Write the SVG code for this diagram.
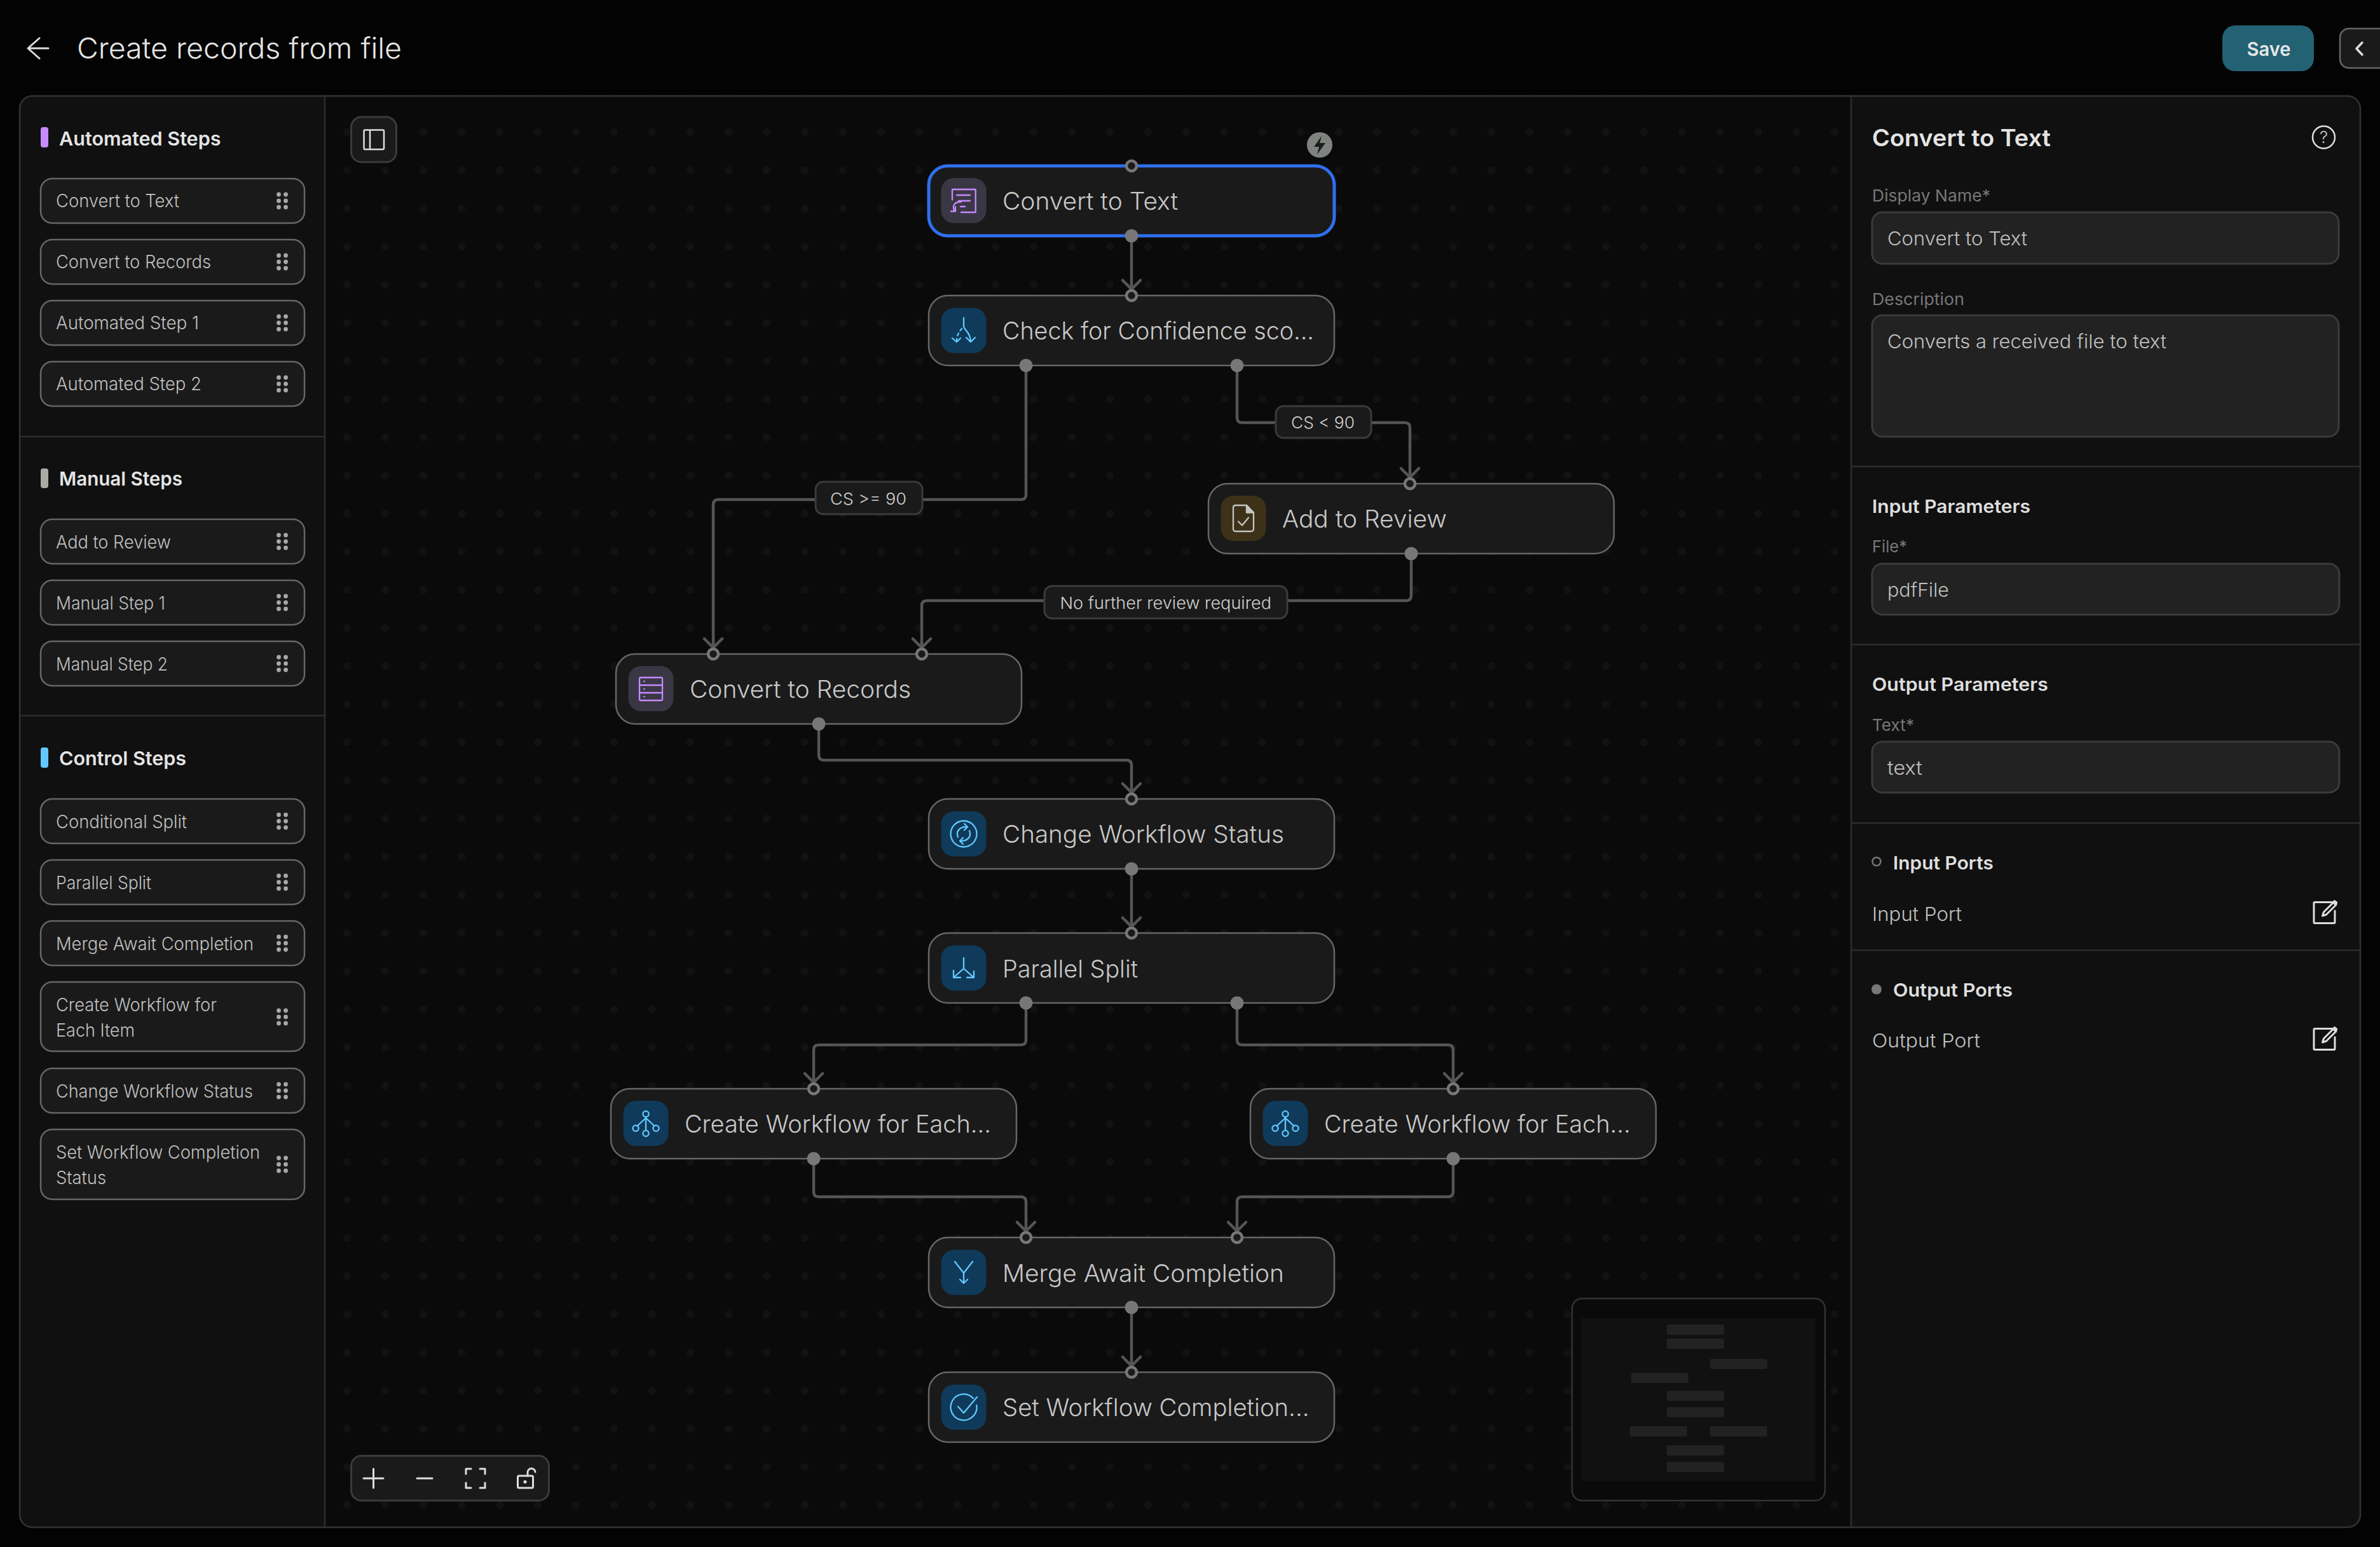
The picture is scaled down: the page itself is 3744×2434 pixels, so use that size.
<svg xmlns="http://www.w3.org/2000/svg" xmlns:xlink="http://www.w3.org/1999/xlink" width="3744" height="2434" viewBox="0 0 3744 2434">
<style>
text{font-family:"Inter","Noto Sans",sans-serif;}
.title{font-size:45px;font-weight:300;fill:#e6e6e6;}
.head{font-size:30px;font-weight:600;fill:#e4e4e4;}
.pal{font-size:28px;font-weight:300;fill:#c0c0c0;}
.item{fill:#1a1a1a;stroke:#666;stroke-width:2.5;}
.node{fill:#1a1a1a;stroke:#666;stroke-width:2.5;}
.sel{fill:#1a1a1a;stroke:#2f6fee;stroke-width:5;}
.nl{font-size:38px;font-weight:300;fill:#c8c8c8;}
.tile-p{fill:#3a3745;}
.tile-b{fill:#0f3a5a;}
.tile-y{fill:#3d3218;}
.ic{fill:none;stroke-width:2.3;stroke-linecap:round;stroke-linejoin:round;}
.ic-p{stroke:#c68bff;}
.ic-b{stroke:#62c8ff;}
.ic-g{stroke:#c4c4c4;}
.pin{fill:#1a1a1a;stroke:#777;stroke-width:4.5;}
.pout{fill:#777;}
.edge{fill:none;stroke:#555;stroke-width:4.5;marker-end:url(#chev);}
.elab{fill:#1a1a1a;stroke:#3a3a40;stroke-width:3;}
.elt{font-size:26px;font-weight:300;fill:#d0d0d0;}
.lab{font-size:26px;fill:#777;font-weight:400;}
.field{fill:#222;stroke:#3a3a40;stroke-width:3;}
.ft{font-size:30px;font-weight:300;fill:#c0c0c0;}
.sh{font-size:29px;font-weight:600;fill:#dedede;}
.pnl{font-size:37px;font-weight:600;fill:#e4e4e4;}
.tool{fill:none;stroke:#ddd;stroke-width:3;stroke-linecap:round;stroke-linejoin:round;}
.div{stroke:#2c2c2c;stroke-width:2.5;}
.mm{fill:#222;}
</style>
<defs>
<pattern id="dots" patternUnits="userSpaceOnUse" width="60" height="60"><circle cx="6" cy="28" r="6" fill="#121212"/></pattern>
<marker id="chev" markerUnits="userSpaceOnUse" markerWidth="24" markerHeight="36" refX="18" refY="18" orient="auto" viewBox="0 0 24 36"><path d="M4,4 L18,18 L4,32" fill="none" stroke="#555" stroke-width="4.5" stroke-linecap="round"/></marker>
<g id="grip" fill="#a8a8a8"><circle cx="-5.5" cy="-10" r="3.4"/><circle cx="5.5" cy="-10" r="3.4"/><circle cx="-5.5" cy="0" r="3.4"/><circle cx="5.5" cy="0" r="3.4"/><circle cx="-5.5" cy="10" r="3.4"/><circle cx="5.5" cy="10" r="3.4"/></g>
<g id="i-text"><path d="M-18,-1 V-17.5 H18.7 V18.5 H-4 M-11,-8.5 H10 M-8,0.5 H10 M-5,9.5 H2"/><path d="M-4,2 C-15,2 -19,9 -14,17 M-20,17 H-13 V10"/></g>
<g id="i-cond"><path d="M0,-20 V-7 C0,-1 11,3 11,18 M4,11 L11,18 L18,11 M-18,12 L-11,18 L-5,12"/><path d="M-3,-3 C-8,3 -11,8 -11,17" stroke-dasharray="4 5"/></g>
<g id="i-par"><path d="M0,-16 V1 L-16,15 M0,1 L16,15 M-16,4 V15 H-5 M16,5 V15 H5"/></g>
<g id="i-each"><circle cx="0" cy="-15.3" r="4.6"/><circle cx="-16" cy="7.3" r="4.6"/><circle cx="16" cy="7.3" r="4.6"/><circle cx="0" cy="15.3" r="4.6"/><path d="M0,-10.5 V10.5 M0,-9 L-13.5,3.5 M0,-9 L13.5,3.5"/></g>
<g id="i-merge"><path d="M-14,-17 L0,1 L14,-17 M0,1 V17 M-6,11 L0,17 L6,11"/></g>
<g id="i-change"><circle cx="0" cy="0" r="20.5"/><path d="M-9,5 C-13,-5 -5,-12 6,-11 M1,-16 L6,-11 L1,-6 M9,-5 C13,5 5,12 -6,11 M-1,16 L-6,11 L-1,6"/></g>
<g id="i-set"><path d="M15,-14 A20.5,20.5 0 1 0 20.3,-3"/><path d="M-9,-1 L0,9 L21,-16"/></g>
<g id="i-rec"><rect x="-18" y="-18" width="36" height="36" rx="2"/><path d="M-18,-6 H18 M-18,6 H18 M-11,-12 H-10.5 M-11,0 H-10.5 M-11,12 H-10.5"/></g>
<g id="i-doc"><path d="M5,-20.5 H-12 Q-16,-20.5 -16,-16.5 V16.5 Q-16,20.5 -12,20.5 H12 Q16,20.5 16,16.5 V-9 Z"/><path d="M5,-20.5 V-9 H16 Z" fill="#c4c4c4"/><path d="M-8,5 L-2,11 L8,-1"/></g>
<g id="i-edit"><path d="M18,-15.5 H-16 Q-17.5,-15.5 -17.5,-14 V16 Q-17.5,17.5 -16,17.5 H14 Q15.5,17.5 15.5,16 V-2"/><path d="M-4,6 L-2,0 L13,-15 L17,-11 L2,4 Z"/><path d="M13,-15 L15,-17.5 L18,-14 L17,-11" fill="#ddd"/></g>
<clipPath id="frame"><rect x="31" y="151" width="3682" height="2252" rx="20"/></clipPath>
</defs>

<rect width="3744" height="2434" fill="#030303"/>
<g id="frame-panels">
<g clip-path="url(#frame)">
<rect x="31" y="151" width="3682" height="2252" fill="#0a0a0a"/>
<rect x="512" y="151" width="2400" height="2252" fill="url(#dots)"/>
<rect x="31" y="151" width="480" height="2252" fill="#101010"/>
<rect x="2912" y="151" width="801" height="2252" fill="#101010"/>
</g>
<rect x="31" y="151" width="3682" height="2252" rx="20" fill="none" stroke="#333" stroke-width="2.5"/>
<path class="div" d="M511,152 V2402 M2912,152 V2402 M32,687 H511 M32,1126 H511 M2913,734 H3712 M2913,1014 H3712 M2913,1295 H3712 M2913,1495 H3712"/>
</g>

<g id="header">
<path d="M76,76 H45 M62,60 L44,76 L62,92" fill="none" stroke="#ddd" stroke-width="3" stroke-linecap="round" stroke-linejoin="round"/>
<text class="title" x="121" y="92" textLength="511" lengthAdjust="spacingAndGlyphs">Create records from file</text>
<rect x="3496" y="40" width="144" height="72" rx="20" fill="#226273"/>
<text x="3569" y="88" text-anchor="middle" font-size="30" font-weight="600" fill="#e6e6e6" textLength="69" lengthAdjust="spacingAndGlyphs">Save</text>
<rect x="3681" y="45" width="80" height="62" rx="14" fill="#1a1a1a" stroke="#666" stroke-width="2.5"/>
<path d="M3716,67 L3707,76.5 L3716,86" fill="none" stroke="#ddd" stroke-width="3.5" stroke-linecap="round" stroke-linejoin="round"/>
</g>

<g id="palette">
<rect x="64" y="200" width="12" height="32" rx="4" fill="#c68bff"/>
<text class="head" x="93" y="228.5" textLength="254.5" lengthAdjust="spacingAndGlyphs">Automated Steps</text>
<g id="pal-convert-text"><rect class="item" x="64" y="281" width="415" height="70" rx="18"/><text class="pal" x="88" y="326" textLength="194" lengthAdjust="spacingAndGlyphs">Convert to Text</text><use href="#grip" x="444" y="316"/></g>
<g id="pal-convert-records"><rect class="item" x="64" y="377" width="415" height="70" rx="18"/><text class="pal" x="88" y="422" textLength="244" lengthAdjust="spacingAndGlyphs">Convert to Records</text><use href="#grip" x="444" y="412"/></g>
<g id="pal-auto-1"><rect class="item" x="64" y="473" width="415" height="70" rx="18"/><text class="pal" x="88" y="518" textLength="225" lengthAdjust="spacingAndGlyphs">Automated Step 1</text><use href="#grip" x="444" y="508"/></g>
<g id="pal-auto-2"><rect class="item" x="64" y="569" width="415" height="70" rx="18"/><text class="pal" x="88" y="614" textLength="229" lengthAdjust="spacingAndGlyphs">Automated Step 2</text><use href="#grip" x="444" y="604"/></g>

<rect x="64" y="737" width="12" height="31" rx="4" fill="#aaa9a3"/>
<text class="head" x="93" y="763.5" textLength="194" lengthAdjust="spacingAndGlyphs">Manual Steps</text>
<g id="pal-add-review"><rect class="item" x="64" y="817" width="415" height="70" rx="18"/><text class="pal" x="88" y="863" textLength="181" lengthAdjust="spacingAndGlyphs">Add to Review</text><use href="#grip" x="444" y="852"/></g>
<g id="pal-manual-1"><rect class="item" x="64" y="913" width="415" height="70" rx="18"/><text class="pal" x="88" y="959" textLength="172" lengthAdjust="spacingAndGlyphs">Manual Step 1</text><use href="#grip" x="444" y="948"/></g>
<g id="pal-manual-2"><rect class="item" x="64" y="1009" width="415" height="70" rx="18"/><text class="pal" x="88" y="1055" textLength="176" lengthAdjust="spacingAndGlyphs">Manual Step 2</text><use href="#grip" x="444" y="1044"/></g>

<rect x="64" y="1176" width="12" height="32" rx="4" fill="#62c8ff"/>
<text class="head" x="93" y="1204" textLength="200" lengthAdjust="spacingAndGlyphs">Control Steps</text>
<g id="pal-cond"><rect class="item" x="64" y="1257" width="415" height="70" rx="18"/><text class="pal" x="88" y="1303" textLength="206" lengthAdjust="spacingAndGlyphs">Conditional Split</text><use href="#grip" x="444" y="1292"/></g>
<g id="pal-par"><rect class="item" x="64" y="1353" width="415" height="70" rx="18"/><text class="pal" x="88" y="1399" textLength="150" lengthAdjust="spacingAndGlyphs">Parallel Split</text><use href="#grip" x="444" y="1388"/></g>
<g id="pal-merge"><rect class="item" x="64" y="1449" width="415" height="70" rx="18"/><text class="pal" x="88" y="1495" textLength="311" lengthAdjust="spacingAndGlyphs">Merge Await Completion</text><use href="#grip" x="444" y="1484"/></g>
<g id="pal-each"><rect class="item" x="64" y="1545" width="415" height="109" rx="18"/><text class="pal" x="88" y="1591" textLength="253" lengthAdjust="spacingAndGlyphs">Create Workflow for</text><text class="pal" x="88" y="1631" textLength="124" lengthAdjust="spacingAndGlyphs">Each Item</text><use href="#grip" x="444" y="1600"/></g>
<g id="pal-change"><rect class="item" x="64" y="1681" width="415" height="70" rx="18"/><text class="pal" x="88" y="1727" textLength="310" lengthAdjust="spacingAndGlyphs">Change Workflow Status</text><use href="#grip" x="444" y="1716"/></g>
<g id="pal-set"><rect class="item" x="64" y="1777" width="415" height="110" rx="18"/><text class="pal" x="88" y="1823" textLength="321" lengthAdjust="spacingAndGlyphs">Set Workflow Completion</text><text class="pal" x="88" y="1863" textLength="79" lengthAdjust="spacingAndGlyphs">Status</text><use href="#grip" x="444" y="1832"/></g>
</g>

<g id="connectors">
<path id="e1" class="edge" d="M1780,371 V455"/>
<path id="e2" class="edge" d="M1614,575 V778 Q1614,786 1606,786 H1130 Q1122,786 1122,794 V1019"/>
<path id="e3" class="edge" d="M1946,575 V657 Q1946,665 1954,665 H2210 Q2218,665 2218,673 V751"/>
<path id="e4" class="edge" d="M2220,871 V937 Q2220,945 2212,945 H1458 Q1450,945 1450,953 V1019"/>
<path id="e5" class="edge" d="M1288,1139 V1188 Q1288,1196 1296,1196 H1772 Q1780,1196 1780,1204 V1247"/>
<path id="e6" class="edge" d="M1780,1367 V1458"/>
<path id="e7" class="edge" d="M1614,1578 V1636 Q1614,1644 1606,1644 H1288 Q1280,1644 1280,1652 V1703"/>
<path id="e8" class="edge" d="M1946,1578 V1636 Q1946,1644 1954,1644 H2278 Q2286,1644 2286,1652 V1703"/>
<path id="e9" class="edge" d="M1280,1823 V1875 Q1280,1883 1288,1883 H1606 Q1614,1883 1614,1891 V1937"/>
<path id="e10" class="edge" d="M2286,1823 V1875 Q2286,1883 2278,1883 H1954 Q1946,1883 1946,1891 V1937"/>
<path id="e11" class="edge" d="M1780,2057 V2149"/>
<g id="label-cs-ge"><rect class="elab" x="1283" y="758" width="168" height="51" rx="12"/><text class="elt" x="1306" y="793.5" textLength="120" lengthAdjust="spacingAndGlyphs">CS &gt;= 90</text></g>
<g id="label-cs-lt"><rect class="elab" x="2007" y="639" width="150" height="50" rx="12"/><text class="elt" x="2031" y="673.5" textLength="100" lengthAdjust="spacingAndGlyphs">CS &lt; 90</text></g>
<g id="label-no-review"><rect class="elab" x="1643" y="922" width="382" height="51" rx="12"/><text class="elt" x="1667.5" y="957.5" textLength="332.5" lengthAdjust="spacingAndGlyphs">No further review required</text></g>
</g>

<g id="node-convert-text">
<rect class="sel" x="1461" y="261" width="638" height="110" rx="30"/>
<rect class="tile-p" x="1480.5" y="280" width="71" height="71" rx="20"/>
<use href="#i-text" class="ic ic-p" x="1516" y="315.5"/>
<text class="nl" x="1577" y="330" textLength="276" lengthAdjust="spacingAndGlyphs">Convert to Text</text>
<circle class="pin" cx="1780" cy="261" r="8"/><circle class="pout" cx="1780" cy="371" r="10.5"/>
<circle cx="2076" cy="228" r="20" fill="#7f8380"/><path d="M2079,214 L2067,231 H2075 L2072,243 L2085,225 H2076 Z" fill="#1c1c1c"/>
</g>
<g id="node-check">
<rect class="node" x="1461" y="465" width="638" height="110" rx="30"/>
<rect class="tile-b" x="1480.5" y="484.5" width="71" height="71" rx="20"/>
<use href="#i-cond" class="ic ic-b" x="1516" y="520"/>
<text class="nl" x="1577" y="534" textLength="490" lengthAdjust="spacingAndGlyphs">Check for Confidence sco...</text>
<circle class="pin" cx="1780" cy="465" r="8"/><circle class="pout" cx="1614" cy="575" r="10.5"/><circle class="pout" cx="1946" cy="575" r="10.5"/>
</g>
<g id="node-add-review">
<rect class="node" x="1901" y="761" width="638" height="110" rx="30"/>
<rect class="tile-y" x="1920.5" y="780" width="71" height="71" rx="20"/>
<use href="#i-doc" class="ic ic-g" x="1956" y="815.5"/>
<text class="nl" x="2017" y="830" textLength="259" lengthAdjust="spacingAndGlyphs">Add to Review</text>
<circle class="pin" cx="2218" cy="761" r="8"/><circle class="pout" cx="2220" cy="871" r="10.5"/>
</g>
<g id="node-convert-records">
<rect class="node" x="969" y="1029" width="638" height="110" rx="30"/>
<rect class="tile-p" x="988.5" y="1048" width="71" height="71" rx="20"/>
<use href="#i-rec" class="ic ic-p" x="1024" y="1084"/>
<text class="nl" x="1085" y="1098" textLength="348" lengthAdjust="spacingAndGlyphs">Convert to Records</text>
<circle class="pin" cx="1122" cy="1029" r="8"/><circle class="pin" cx="1450" cy="1029" r="8"/><circle class="pout" cx="1288" cy="1139" r="10.5"/>
</g>
<g id="node-change-status">
<rect class="node" x="1461" y="1257" width="638" height="110" rx="30"/>
<rect class="tile-b" x="1480.5" y="1276.5" width="71" height="71" rx="20"/>
<use href="#i-change" class="ic ic-b" x="1516" y="1312"/>
<text class="nl" x="1577" y="1326" textLength="443" lengthAdjust="spacingAndGlyphs">Change Workflow Status</text>
<circle class="pin" cx="1780" cy="1257" r="8"/><circle class="pout" cx="1780" cy="1367" r="10.5"/>
</g>
<g id="node-parallel">
<rect class="node" x="1461" y="1468" width="638" height="110" rx="30"/>
<rect class="tile-b" x="1480.5" y="1487.5" width="71" height="71" rx="20"/>
<use href="#i-par" class="ic ic-b" x="1516" y="1523"/>
<text class="nl" x="1577" y="1538" textLength="213" lengthAdjust="spacingAndGlyphs">Parallel Split</text>
<circle class="pin" cx="1780" cy="1468" r="8"/><circle class="pout" cx="1614" cy="1578" r="10.5"/><circle class="pout" cx="1946" cy="1578" r="10.5"/>
</g>
<g id="node-each-left">
<rect class="node" x="961" y="1713" width="638" height="110" rx="30"/>
<rect class="tile-b" x="980.5" y="1732" width="71" height="71" rx="20"/>
<use href="#i-each" class="ic ic-b" x="1016" y="1768"/>
<text class="nl" x="1077" y="1782" textLength="482" lengthAdjust="spacingAndGlyphs">Create Workflow for Each...</text>
<circle class="pin" cx="1280" cy="1713" r="8"/><circle class="pout" cx="1280" cy="1823" r="10.5"/>
</g>
<g id="node-each-right">
<rect class="node" x="1967" y="1713" width="638" height="110" rx="30"/>
<rect class="tile-b" x="1986.5" y="1732" width="71" height="71" rx="20"/>
<use href="#i-each" class="ic ic-b" x="2022" y="1768"/>
<text class="nl" x="2083" y="1782" textLength="482" lengthAdjust="spacingAndGlyphs">Create Workflow for Each...</text>
<circle class="pin" cx="2286" cy="1713" r="8"/><circle class="pout" cx="2286" cy="1823" r="10.5"/>
</g>
<g id="node-merge">
<rect class="node" x="1461" y="1947" width="638" height="110" rx="30"/>
<rect class="tile-b" x="1480.5" y="1966.5" width="71" height="71" rx="20"/>
<use href="#i-merge" class="ic ic-b" x="1516" y="2002"/>
<text class="nl" x="1577" y="2017" textLength="443" lengthAdjust="spacingAndGlyphs">Merge Await Completion</text>
<circle class="pin" cx="1614" cy="1947" r="8"/><circle class="pin" cx="1946" cy="1947" r="8"/><circle class="pout" cx="1780" cy="2057" r="10.5"/>
</g>
<g id="node-set-completion">
<rect class="node" x="1461" y="2159" width="638" height="110" rx="30"/>
<rect class="tile-b" x="1480.5" y="2178.5" width="71" height="71" rx="20"/>
<use href="#i-set" class="ic ic-b" x="1516" y="2214"/>
<text class="nl" x="1577" y="2228" textLength="482.5" lengthAdjust="spacingAndGlyphs">Set Workflow Completion...</text>
<circle class="pin" cx="1780" cy="2159" r="8"/>
</g>

<g id="canvas-tools">
<rect x="552.5" y="184" width="71" height="71" rx="16" fill="#1a1a1a" stroke="#3a3a40" stroke-width="3"/>
<rect x="572.5" y="204.5" width="31.5" height="30.5" rx="2" fill="none" stroke="#ddd" stroke-width="2.5"/><path d="M582,204.5 V235" stroke="#ddd" stroke-width="2.5"/>
<rect x="552.5" y="2290.5" width="311" height="70.5" rx="16" fill="#1a1a1a" stroke="#3a3a40" stroke-width="3"/>
<path class="tool" d="M572,2326 H603 M587.5,2311 V2341 M656,2326 H680 M733,2319 V2311 H741 M755,2311 H763 V2319 M733,2333 V2341 H741 M755,2341 H763 V2333"/>
<rect class="tool" x="814.5" y="2322" width="24" height="19" rx="2"/>
<circle cx="826" cy="2331.5" r="2.6" fill="#ddd"/>
<path class="tool" d="M830,2322 V2317 A6,6 0 0 1 842,2316"/>
</g>

<g id="minimap">
<rect x="2473" y="2043" width="398" height="318" rx="16" fill="#0a0a0a" stroke="#333" stroke-width="2.5"/>
<rect x="2488" y="2074" width="368" height="256" fill="#111"/>
<rect class="mm" x="2622" y="2084" width="90" height="16" rx="3"/>
<rect class="mm" x="2622" y="2106" width="90" height="16" rx="3"/>
<rect class="mm" x="2690" y="2138" width="90" height="16" rx="3"/>
<rect class="mm" x="2566" y="2160" width="90" height="16" rx="3"/>
<rect class="mm" x="2622" y="2188" width="90" height="16" rx="3"/>
<rect class="mm" x="2622" y="2214" width="90" height="16" rx="3"/>
<rect class="mm" x="2564" y="2244" width="90" height="16" rx="3"/>
<rect class="mm" x="2690" y="2244" width="90" height="16" rx="3"/>
<rect class="mm" x="2622" y="2274" width="90" height="16" rx="3"/>
<rect class="mm" x="2622" y="2300" width="90" height="16" rx="3"/>
</g>

<g id="properties">
<text class="pnl" x="2945" y="229.5" textLength="281" lengthAdjust="spacingAndGlyphs">Convert to Text</text>
<circle cx="3655.5" cy="216" r="17.5" fill="none" stroke="#ddd" stroke-width="2.5"/>
<text x="3655.5" y="225" font-size="26" font-weight="300" text-anchor="middle" fill="#ccc">?</text>
<text class="lab" x="2945" y="317" textLength="186" lengthAdjust="spacingAndGlyphs">Display Name*</text>
<rect class="field" x="2945" y="334" width="734" height="81" rx="16"/>
<text class="ft" x="2969" y="386" textLength="220" lengthAdjust="spacingAndGlyphs">Convert to Text</text>
<text class="lab" x="2945" y="480" textLength="145" lengthAdjust="spacingAndGlyphs">Description</text>
<rect class="field" x="2945" y="496" width="734" height="191" rx="16"/>
<text class="ft" x="2969" y="548" textLength="439" lengthAdjust="spacingAndGlyphs">Converts a received file to text</text>
<text class="sh" x="2945" y="806.5" textLength="249" lengthAdjust="spacingAndGlyphs">Input Parameters</text>
<text class="lab" x="2945" y="869" textLength="55" lengthAdjust="spacingAndGlyphs">File*</text>
<rect class="field" x="2945" y="887" width="735" height="80" rx="16"/>
<text class="ft" x="2969" y="939" textLength="97" lengthAdjust="spacingAndGlyphs">pdfFile</text>
<text class="sh" x="2945" y="1086.5" textLength="277" lengthAdjust="spacingAndGlyphs">Output Parameters</text>
<text class="lab" x="2945" y="1150" textLength="66" lengthAdjust="spacingAndGlyphs">Text*</text>
<rect class="field" x="2945" y="1167" width="735" height="80" rx="16"/>
<text class="ft" x="2969" y="1219" textLength="55" lengthAdjust="spacingAndGlyphs">text</text>
<circle cx="2952" cy="1355.5" r="6.5" fill="none" stroke="#777" stroke-width="2.5"/>
<text class="sh" x="2978" y="1368" textLength="158" lengthAdjust="spacingAndGlyphs">Input Ports</text>
<text class="ft" x="2945" y="1449" textLength="141" lengthAdjust="spacingAndGlyphs">Input Port</text>
<use href="#i-edit" class="tool" x="3657.5" y="1435"/>
<circle cx="2952" cy="1556.5" r="8" fill="#777"/>
<text class="sh" x="2978" y="1568" textLength="188" lengthAdjust="spacingAndGlyphs">Output Ports</text>
<text class="ft" x="2945" y="1648" textLength="170" lengthAdjust="spacingAndGlyphs">Output Port</text>
<use href="#i-edit" class="tool" x="3657.5" y="1634"/>
</g>
</svg>
